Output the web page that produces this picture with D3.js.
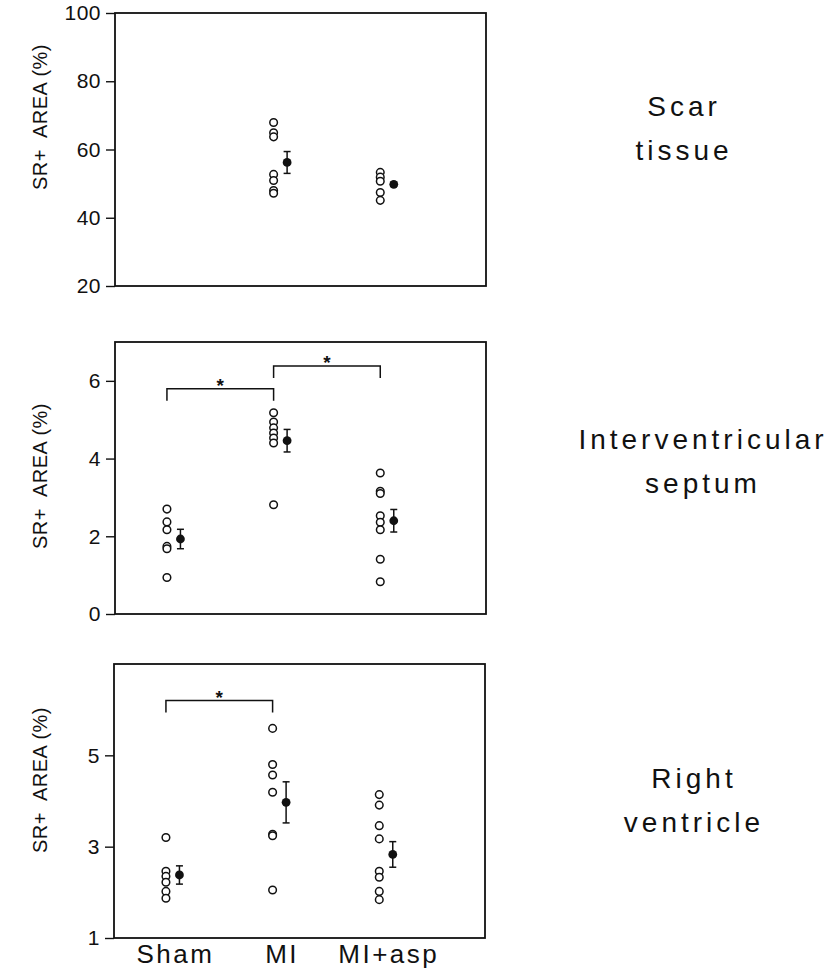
<!DOCTYPE html>
<html>
<head>
<meta charset="utf-8">
<script src="https://cdn.jsdelivr.net/npm/d3@7"></script>
<style>
    body { margin: 0; background: #fff; }
    svg { font-family: "Liberation Sans", Arial, sans-serif; }
</style>
</head>
<body>
<div id="chart"></div>
<script>
// groups on the x axis
const groups = ["Sham", "MI", "MI+asp"]

// scar tissue (no sham scar)
const scarPoints = [[], [67.9, 64.9, 63.7, 52.7, 50.9, 48.0, 47.2], [53.3, 51.9, 50.7, 47.4, 45.1]]
const scarMeans = [null, 56.2, 49.8]
const scarSem = [null, 3.2, 0.6]
const scarTicks = [20, 40, 60, 80, 100]
const scarBrackets = []

// interventricular septum
const septumPoints = [
    [2.70, 2.37, 2.17, 1.74, 1.68, 0.94],
    [5.18, 4.94, 4.79, 4.66, 4.53, 4.40, 2.81],
    [3.63, 3.16, 3.10, 2.53, 2.36, 2.17, 1.41, 0.83]
]
const septumMeans = [1.93, 4.46, 2.40]
const septumSem = [0.25, 0.29, 0.29]
const septumTicks = [0, 2, 4, 6]
const septumBrackets = [["Sham", "MI", 5.8], ["MI", "MI+asp", 6.38]]

// right ventricle
const rvPoints = [
    [3.20, 2.46, 2.35, 2.22, 2.02, 1.87],
    [5.59, 4.80, 4.57, 4.19, 3.27, 3.24, 2.05],
    [4.14, 3.91, 3.46, 3.17, 2.46, 2.33, 2.02, 1.84]
]
const rvMeans = [2.38, 3.97, 2.83]
const rvSem = [0.2, 0.45, 0.28]
const rvTicks = [1, 3, 5]
const rvBrackets = [["Sham", "MI", 6.2]]

const INK = "#111"

class StripPanel {

    constructor(svg, opts) {
        this.svg = svg
        this.opts = opts
        this.initVis()
    }

    initVis() {
        let vis = this
        let o = vis.opts

        vis.width = 371
        vis.height = o.height

        vis.g = vis.svg.append("g")
            .attr("transform", "translate(" + o.left + "," + o.top + ")")

        // scales
        vis.x = d3.scalePoint()
            .domain(groups)
            .range([vis.width * 0.14, vis.width * 0.715])

        vis.y = d3.scaleLinear()
            .domain(o.domain)
            .range([vis.height, 0])

        // y axis, ticks outside
        let yAxis = vis.g.append("g")
            .attr("class", "y-axis")
            .call(d3.axisLeft(vis.y).tickValues(o.ticks).tickFormat(d3.format("d")).tickSize(9).tickPadding(5))
        yAxis.select(".domain").remove()
        yAxis.selectAll("line").attr("stroke", INK).attr("stroke-width", 1.4)
        yAxis.selectAll("text")
            .attr("font-size", "21px")
            .attr("font-family", "Liberation Sans, Arial, sans-serif")
            .attr("letter-spacing", "0.5px")
            .attr("fill", INK)

        // frame
        vis.g.append("rect")
            .attr("width", vis.width)
            .attr("height", vis.height)
            .attr("fill", "none")
            .attr("stroke", INK)
            .attr("stroke-width", 1.8)

        // y title
        vis.g.append("text")
            .text("SR+  AREA (%)")
            .style("white-space", "pre")
            .attr("transform", "translate(" + (40 - o.left) + "," + o.titleY + ") rotate(-90)")
            .attr("text-anchor", "middle")
            .attr("dominant-baseline", "central")
            .attr("font-size", "20px")
            .attr("letter-spacing", "0.5px")
            .attr("fill", INK)

        // panel name on the right
        vis.svg.append("text")
            .attr("text-anchor", "middle")
            .attr("font-size", "28px")
            .attr("letter-spacing", "4px")
            .attr("fill", INK)
            .selectAll("tspan")
            .data(o.name)
            .enter().append("tspan")
            .attr("x", o.nameX)
            .attr("y", (d, i) => o.nameY + i * 44)
            .text(d => d)

        vis.drawData()
    }

    drawData() {
        let vis = this
        let o = vis.opts

        let pts = []
        o.points.forEach((arr, i) => arr.forEach(v => pts.push({ group: groups[i], value: v })))

        // open circles for each animal
        vis.g.selectAll(".pt")
            .data(pts)
            .enter().append("circle")
            .attr("class", "pt")
            .attr("cx", d => vis.x(d.group))
            .attr("cy", d => vis.y(d.value))
            .attr("r", 3.8)
            .attr("fill", "#fff")
            .attr("stroke", INK)
            .attr("stroke-width", 1.5)

        let stats = groups.map((g, i) => ({ group: g, mean: o.means[i], sem: o.sem[i] }))
            .filter(d => d.mean !== null)

        let offset = 13.5
        let cap = 3.5

        // error bars
        let eb = vis.g.selectAll(".eb")
            .data(stats)
            .enter().append("g")
            .attr("class", "eb")
            .attr("stroke", INK)
            .attr("stroke-width", 1.5)

        eb.append("line")
            .attr("x1", d => vis.x(d.group) + offset)
            .attr("x2", d => vis.x(d.group) + offset)
            .attr("y1", d => vis.y(d.mean + d.sem))
            .attr("y2", d => vis.y(d.mean - d.sem))
        eb.append("line")
            .attr("x1", d => vis.x(d.group) + offset - cap)
            .attr("x2", d => vis.x(d.group) + offset + cap)
            .attr("y1", d => vis.y(d.mean + d.sem))
            .attr("y2", d => vis.y(d.mean + d.sem))
        eb.append("line")
            .attr("x1", d => vis.x(d.group) + offset - cap)
            .attr("x2", d => vis.x(d.group) + offset + cap)
            .attr("y1", d => vis.y(d.mean - d.sem))
            .attr("y2", d => vis.y(d.mean - d.sem))

        vis.g.selectAll(".mean")
            .data(stats)
            .enter().append("circle")
            .attr("class", "mean")
            .attr("cx", d => vis.x(d.group) + offset)
            .attr("cy", d => vis.y(d.mean))
            .attr("r", 4.4)
            .attr("fill", INK)

        // significance brackets
        let legs = 12
        let br = vis.g.selectAll(".bracket")
            .data(o.brackets)
            .enter().append("g")
            .attr("class", "bracket")

        br.append("path")
            .attr("d", d => {
                let x1 = vis.x(d[0]), x2 = vis.x(d[1]), yy = vis.y(d[2])
                return "M" + x1 + "," + (yy + legs) + "V" + yy + "H" + x2 + "V" + (yy + legs)
            })
            .attr("fill", "none")
            .attr("stroke", INK)
            .attr("stroke-width", 1.5)

        br.append("text")
            .text("*")
            .attr("x", d => (vis.x(d[0]) + vis.x(d[1])) / 2)
            .attr("y", d => vis.y(d[2]) + 3)
            .attr("text-anchor", "middle")
            .attr("font-size", "19px")
            .attr("font-weight", "bold")
            .attr("fill", INK)

        // category labels under the last panel
        if (o.showGroups) {
            let xa = vis.g.append("g")
                .attr("transform", "translate(9," + vis.height + ")")
                .call(d3.axisBottom(vis.x).tickSize(0).tickPadding(7))
            xa.select(".domain").remove()
            xa.selectAll("text")
                .attr("font-size", "26px")
                .attr("font-family", "Liberation Sans, Arial, sans-serif")
                .attr("letter-spacing", "2.5px")
                .attr("fill", INK)
        }
    }
}

let svg = d3.select("#chart").append("svg")
    .attr("width", 837)
    .attr("height", 972)

new StripPanel(svg, {
    left: 115, top: 13, height: 273, domain: [20, 100], ticks: scarTicks,
    points: scarPoints, means: scarMeans, sem: scarSem, brackets: scarBrackets,
    titleY: 104, name: ["Scar", "tissue"], nameX: 684, nameY: 116
})

new StripPanel(svg, {
    left: 115, top: 342, height: 272, domain: [0, 7], ticks: septumTicks,
    points: septumPoints, means: septumMeans, sem: septumSem, brackets: septumBrackets,
    titleY: 134, name: ["Interventricular", "septum"], nameX: 703, nameY: 449
})

new StripPanel(svg, {
    left: 114, top: 664, height: 274, domain: [1, 7], ticks: rvTicks,
    points: rvPoints, means: rvMeans, sem: rvSem, brackets: rvBrackets,
    titleY: 116, name: ["Right", "ventricle"], nameX: 694, nameY: 788, showGroups: true
})
</script>
</body>
</html>
